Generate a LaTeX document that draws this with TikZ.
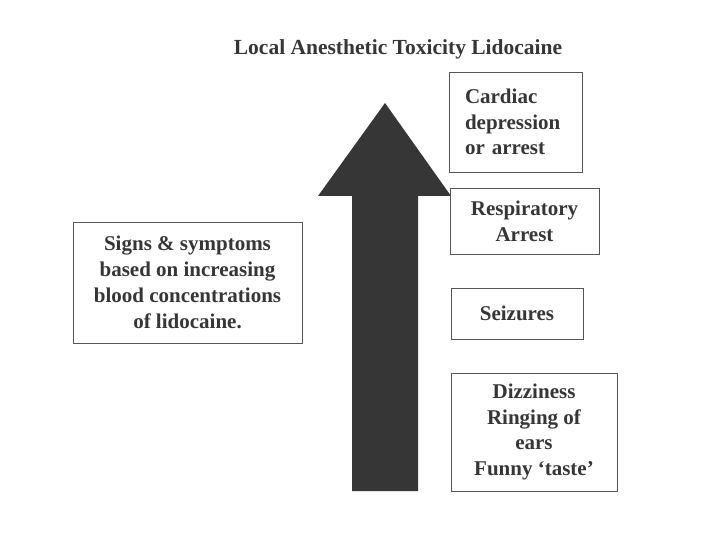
\documentclass[tikz,border=0pt]{standalone}
\usepackage{fontspec}
\setmainfont{Liberation Serif}
\usetikzlibrary{positioning}

\definecolor{inkgray}{HTML}{363636}
\definecolor{framegray}{HTML}{555555}

\tikzset{
  stagebox/.style={draw=framegray, line width=0.9pt, inner sep=0pt,
    font=\bfseries\fontsize{21}{25.8}\selectfont, text=inkgray, align=center},
}

\begin{document}
\begin{tikzpicture}[x=1pt,y=-1pt]
\useasboundingbox (0,0) rectangle (720,540);

% Title
\node[font=\bfseries\fontsize{21.5}{25}\selectfont, text=inkgray] (title) at (398,49) {Local Anesthetic Toxicity Lidocaine};

% Big arrow (rising concentration)
\fill[inkgray] (352,491) -- (352,196) -- (318,196) -- (385,103) -- (451,196) -- (418,196) -- (418,491) -- cycle;

% Left box
\node[stagebox, minimum width=229pt, minimum height=121pt] (signs) at (187.5,282.5)
  {Signs \& symptoms\\based on increasing\\blood concentrations\\of lidocaine.};

% Stages, from top to bottom
\node[stagebox, minimum width=133pt, minimum height=100pt, align=left, text width=101pt] (cardiac) at (515.5,122)
  {Cardiac\\depression\\or arrest};
\node[stagebox, minimum width=149pt, minimum height=66pt] (resp) at (524.5,221)
  {Respiratory\\Arrest};
\node[stagebox, minimum width=132pt, minimum height=51pt] (seiz) at (517,313.5)
  {Seizures};
\node[stagebox, minimum width=166pt, minimum height=118pt] (dizzy) at (534,432)
  {Dizziness\\Ringing of\\ears\\Funny `taste'};

\end{tikzpicture}
\end{document}
